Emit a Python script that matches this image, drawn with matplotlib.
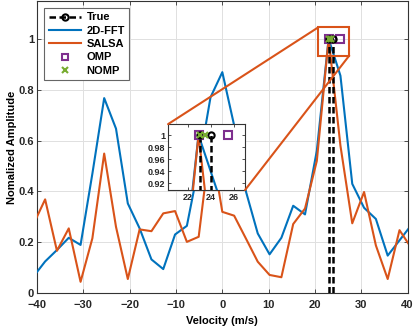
import numpy as np
import matplotlib
matplotlib.use("Agg")
import matplotlib.pyplot as plt
from matplotlib.patches import Rectangle, ConnectionPatch
from matplotlib.lines import Line2D

plt.rcParams["font.family"] = ["Liberation Sans", "DejaVu Sans"]
plt.rcParams["font.weight"] = "bold"

# velocity grid (m/s)
velocity = np.arange(-16, 17) * 2.55

fft_amp = [0.065, 0.125, 0.17, 0.218, 0.19, 0.47, 0.767, 0.647, 0.353, 0.255,
           0.133, 0.095, 0.231, 0.265, 0.50, 0.77, 0.869, 0.66, 0.40, 0.235,
           0.153, 0.218, 0.344, 0.31, 0.56, 1.0, 0.855, 0.43, 0.336, 0.292,
           0.148, 0.208, 0.268]
salsa_amp = [0.27, 0.369, 0.167, 0.255, 0.045, 0.216, 0.549, 0.261, 0.056, 0.251,
             0.244, 0.314, 0.323, 0.202, 0.222, 0.60, 0.32, 0.305, 0.215, 0.124,
             0.072, 0.063, 0.272, 0.333, 0.52, 1.0, 0.58, 0.275, 0.398, 0.188,
             0.056, 0.248, 0.178]

true_vel = [23.05, 24.0]
true_amp = [1.0, 1.0]
omp_vel = [22.95, 25.5]
omp_amp = [1.0, 1.0]
nomp_vel = [23.05, 23.5]
nomp_amp = [1.0, 1.0]

BLUE = "#0072BD"
ORANGE = "#D95319"
PURPLE = "#7E2F8E"
GREEN = "#77AC30"
AX_COL = "0.2"


def draw_all(ax, lw=1.5):
    ax.plot(velocity, fft_amp, color=BLUE, lw=lw, zorder=3)
    ax.plot(velocity, salsa_amp, color=ORANGE, lw=lw, zorder=3)
    for v, a in zip(true_vel, true_amp):
        ax.plot([v, v], [0, a], color="black", lw=1.8, ls=(0, (2.6, 1.4)), zorder=4)
    ax.plot(true_vel, true_amp, "o", ms=4.5, mfc="none", mec="black", mew=1.5, zorder=6)
    ax.plot(omp_vel, omp_amp, "s", ms=6, mfc="none", mec=PURPLE, mew=1.5, zorder=5)
    ax.plot(nomp_vel, nomp_amp, "x", ms=4.5, color=GREEN, mew=1.5, zorder=7)


def style_axes(ax, size, pad=2):
    for s in ax.spines.values():
        s.set_color(AX_COL)
        s.set_linewidth(0.8)
    ax.tick_params(direction="in", length=3, width=0.6, top=True, right=True,
                   colors=AX_COL, labelsize=size, pad=pad)
    for lab in ax.get_xticklabels() + ax.get_yticklabels():
        lab.set_fontweight("bold")
        lab.set_color("0.15")


fig = plt.figure(figsize=(4.15, 3.31), dpi=100)
ax = fig.add_axes([0.0892, 0.114, 0.893, 0.884])
draw_all(ax)
ax.set_xlim(-40, 40)
ax.set_ylim(0, 1.15)
ax.set_xticks(np.arange(-40, 41, 10))
ax.set_yticks([0, 0.2, 0.4, 0.6, 0.8, 1])
ax.set_yticklabels(["0", "0.2", "0.4", "0.6", "0.8", "1"])
ax.grid(True, color="0.88", lw=0.7)
ax.set_axisbelow(True)
style_axes(ax, 8)
ax.tick_params(axis="x", pad=5)
ax.set_xlabel("Velocity (m/s)", fontsize=8, fontweight="bold", labelpad=4)
ax.set_ylabel("Nomalized Amplitude", fontsize=8, fontweight="bold", labelpad=1)

# zoom rectangle on the main axes
ax.add_patch(Rectangle((20.7, 0.934), 6.7, 0.111, fill=False, ec=ORANGE, lw=1.5, zorder=8))

handles = [
    Line2D([], [], color="black", ls=(0, (2.6, 1.4)), lw=1.8, marker="o", ms=4.5,
           mfc="none", mec="black", mew=1.5),
    Line2D([], [], color=BLUE, lw=1.5),
    Line2D([], [], color=ORANGE, lw=1.5),
    Line2D([], [], ls="none", marker="s", ms=5, mfc="none", mec=PURPLE, mew=1.5),
    Line2D([], [], ls="none", marker="x", ms=4.5, color=GREEN, mew=1.5),
]
leg = ax.legend(handles, ["True", "2D-FFT", "SALSA", "OMP", "NOMP"],
                loc="upper left", bbox_to_anchor=(0.02, 0.975), borderaxespad=0,
                fancybox=False, framealpha=1, edgecolor="0.4",
                handlelength=2.9, handletextpad=0.5, labelspacing=0.3,
                borderpad=0.4, prop={"weight": "bold", "size": 8})
leg.get_frame().set_linewidth(0.8)

# inset
axin = fig.add_axes([0.405, 0.426, 0.1855, 0.199])
draw_all(axin)
axin.set_xlim(20.3, 27.0)
axin.set_ylim(0.909, 1.018)
axin.set_xticks([22, 24, 26])
axin.set_yticks([0.92, 0.94, 0.96, 0.98, 1.0])
axin.set_yticklabels(["0.92", "0.94", "0.96", "0.98", "1"])
style_axes(axin, 6.5)
axin.tick_params(length=2)

for xa, ya, xb, yb in [(0, 1, 20.7, 1.045), (1, 0, 27.4, 0.934)]:
    con = ConnectionPatch(xyA=(xa, ya), coordsA=axin.transAxes,
                          xyB=(xb, yb), coordsB=ax.transData,
                          color=ORANGE, lw=1.5, zorder=2)
    fig.add_artist(con)

fig.savefig("out.png", dpi=100)
